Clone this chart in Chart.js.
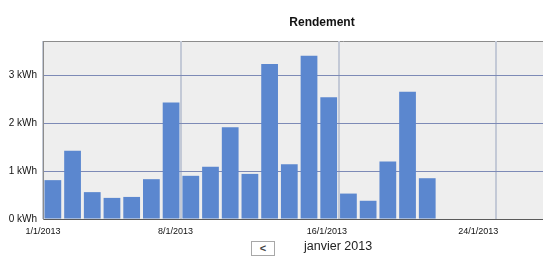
<!DOCTYPE html>
<html>
<head>
<meta charset="utf-8">
<script src="https://cdn.jsdelivr.net/npm/chart.js@4/dist/chart.umd.min.js"></script>
<style>
  html, body { margin: 0; padding: 0; background: #fff; }
  #page { position: relative; width: 543px; height: 265px; overflow: hidden; }
  #chartBox { position: absolute; left: 0; top: 0; width: 644px; height: 240px; }
  #prevBtn {
    position: absolute; left: 251px; top: 241px; width: 22px; height: 13px;
    border: 1px solid #a8a8a8; background: #fff;
    font: bold 11px "Liberation Sans", Arial, sans-serif; color: #444;
    text-align: center; line-height: 13px;
  }
  #monthLabel {
    position: absolute; left: 304px; top: 239px;
    font: 12.5px "Liberation Sans", Arial, sans-serif; color: #222;
  }
</style>
</head>
<body>
<div id="page">
  <div id="chartBox"><canvas id="chartRendement" width="644" height="240"></canvas></div>
  <div id="prevBtn">&lt;</div>
  <div id="monthLabel">janvier 2013</div>
</div>
<script>
// données (kWh par jour, janvier 2013)
const days = [1, 2, 3, 4, 5, 6, 7, 8, 9, 10, 11, 12, 13, 14, 15, 16, 17, 18, 19, 20];
const rendement = [0.81, 1.42, 0.56, 0.44, 0.46, 0.83, 2.43, 0.90, 1.09, 1.91,
                   0.94, 3.23, 1.14, 3.40, 2.54, 0.53, 0.38, 1.20, 2.65, 0.85];
const tickDays = [1, 8, 16, 24];
const tickLabels = ['1/1/2013', '8/1/2013', '16/1/2013', '24/1/2013'];
const yTicks = [0, 1, 2, 3];

const font = '"Liberation Sans", Arial, sans-serif';
const xMax = 30.5;

// fond gris + bord supérieur de la zone de tracé
const plotBg = {
    id: 'plotBg',
    beforeDraw(chart) {
        const { ctx, chartArea: a } = chart;
        ctx.save();
        ctx.fillStyle = '#eeeeee';
        ctx.fillRect(a.left, a.top, a.right - a.left, a.bottom - a.top);
        ctx.strokeStyle = '#8c8c8c';
        ctx.lineWidth = 1;
        ctx.beginPath();
        ctx.moveTo(a.left, a.top + 0.5);
        ctx.lineTo(a.right, a.top + 0.5);
        ctx.stroke();
        ctx.restore();
    }
};

new Chart(document.getElementById('chartRendement').getContext('2d'), {
    type: 'bar',
    data: {
        datasets: [{
            label: 'Rendement',
            data: days.map((d, i) => ({ x: d - 0.5, y: rendement[i] })),
            backgroundColor: '#5b87cf',
            borderWidth: 0,
            categoryPercentage: 1,
            barPercentage: 0.85
        }]
    },
    options: {
        responsive: false,
        animation: false,
        devicePixelRatio: 1,
        layout: { padding: 0 },
        plugins: {
            legend: { display: false },
            tooltip: { enabled: false },
            title: {
                display: true,
                text: 'Rendement',
                color: '#111',
                font: { family: font, size: 12, weight: 'bold' },
                padding: { top: 15, bottom: 11.6 }
            }
        },
        scales: {
            x: {
                type: 'linear',
                position: 'bottom',
                weight: 0,
                min: 0,
                max: xMax,
                offset: false,
                afterBuildTicks: axis => { axis.ticks = tickDays.map(d => ({ value: d - 1 })); },
                afterFit: axis => { axis.height = 0; },
                ticks: { display: false },
                grid: { color: '#c3c9d6', lineWidth: 2, drawTicks: false, offset: false },
                border: { color: '#5a5a5a', width: 1 }
            },
            x2: {
                type: 'linear',
                position: 'bottom',
                weight: 1,
                min: 0,
                max: xMax * 1.0412,
                offset: false,
                afterBuildTicks: axis => { axis.ticks = tickDays.map(d => ({ value: d - 1 })); },
                afterFit: axis => { axis.height = 21; },
                ticks: {
                    color: '#111',
                    font: { family: font, size: 9 },
                    padding: 7,
                    maxRotation: 0,
                    autoSkip: false,
                    callback: (v, i) => tickLabels[i]
                },
                grid: { display: false, drawTicks: false, offset: false },
                border: { display: false }
            },
            y: {
                min: 0,
                max: 3.71,
                afterBuildTicks: axis => { axis.ticks = yTicks.map(v => ({ value: v })); },
                afterFit: axis => { axis.width = 43; },
                ticks: {
                    color: '#111',
                    font: { family: font, size: 10 },
                    padding: 6,
                    callback: v => v + ' kWh'
                },
                grid: {
                    color: ctx => ctx.tick && ctx.tick.value === 0 ? 'rgba(0,0,0,0)' : '#7d8ab6',
                    lineWidth: 1,
                    drawTicks: false
                },
                border: { color: '#8c8c8c', width: 1 }
            }
        }
    },
    plugins: [plotBg]
});
</script>
</body>
</html>
